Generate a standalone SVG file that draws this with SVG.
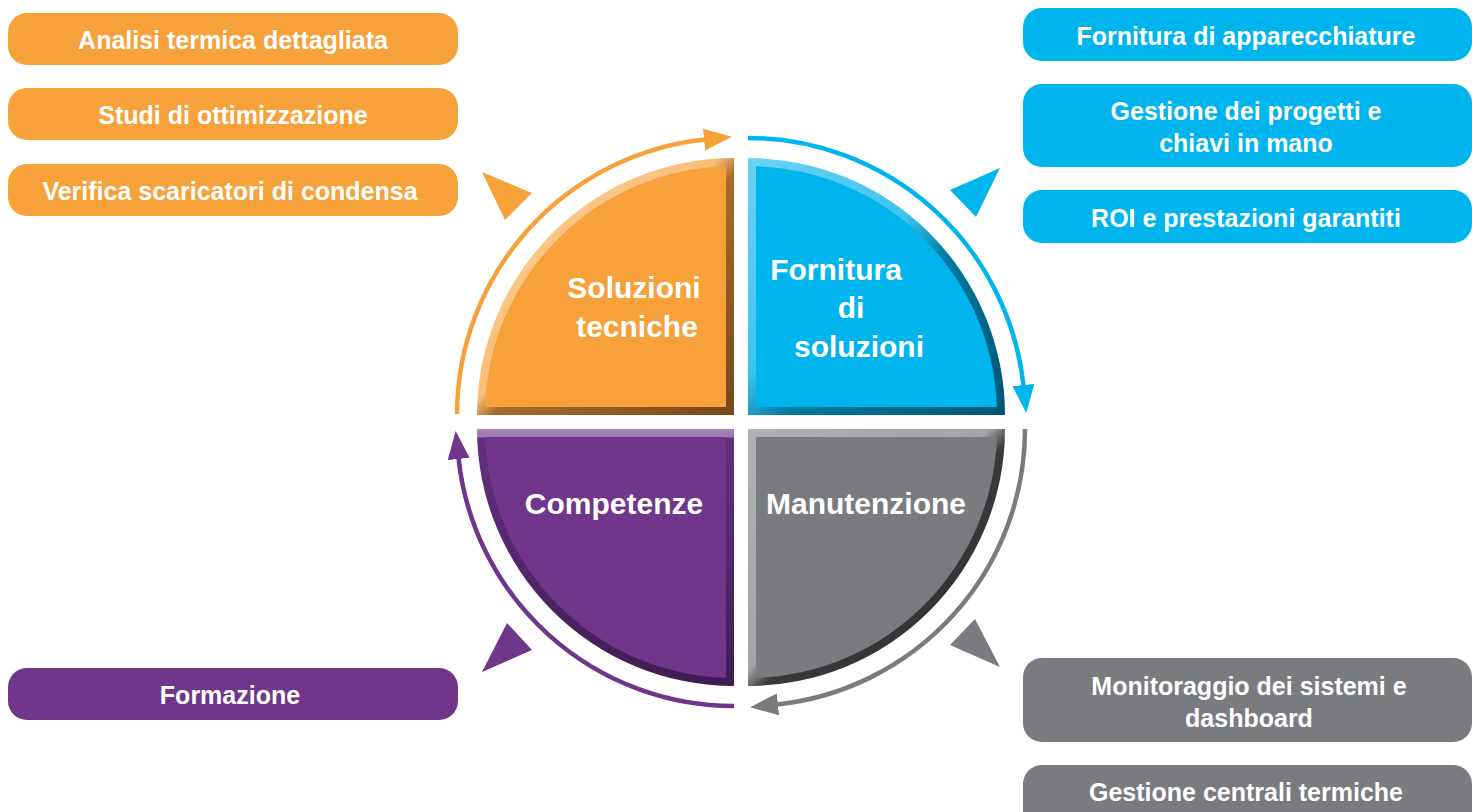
<svg xmlns="http://www.w3.org/2000/svg" width="1472" height="812" viewBox="0 0 1472 812">
<defs>
<style>
text{font-family:"Liberation Sans",Arial,sans-serif;font-weight:700;fill:#fff;text-anchor:middle}
.pill{font-size:25px}
.quad{font-size:30px}
.arc{fill:none;stroke-width:4.5}
.or{fill:#F6A13A}.bl{fill:#00B4EE}.pu{fill:#70368A}.gr{fill:#7A7B7F}
</style>
<linearGradient id="gOr" x1="0" y1="0" x2="1" y2="1">
<stop offset="0" stop-color="#FCD3A2"/><stop offset="0.47" stop-color="#F9BE78"/><stop offset="0.53" stop-color="#A86B2B"/><stop offset="1" stop-color="#774718"/>
</linearGradient>
<linearGradient id="gBl" x1="0" y1="0" x2="1" y2="1">
<stop offset="0" stop-color="#6DD2F4"/><stop offset="0.42" stop-color="#3CC4F0"/><stop offset="0.58" stop-color="#0078A0"/><stop offset="1" stop-color="#005573"/>
</linearGradient>
<linearGradient id="gPu" x1="0" y1="0" x2="0" y2="1">
<stop offset="0" stop-color="#A684BA"/><stop offset="0.03" stop-color="#9E7AB2"/><stop offset="0.036" stop-color="#63307C"/><stop offset="0.5" stop-color="#56286C"/><stop offset="1" stop-color="#3F1C52"/>
</linearGradient>
<linearGradient id="gGr" x1="0" y1="0" x2="1" y2="1">
<stop offset="0" stop-color="#B0B1B3"/><stop offset="0.47" stop-color="#A3A4A6"/><stop offset="0.53" stop-color="#3A3A3C"/><stop offset="1" stop-color="#2A2A2B"/>
</linearGradient>
<marker id="aOr" viewBox="0 0 28 22" markerUnits="userSpaceOnUse" markerWidth="28" markerHeight="22" refX="1" refY="11" orient="auto"><path d="M0,0 L28,11 L0,22 z" fill="#F6A13A"/></marker>
<marker id="aBl" viewBox="0 0 28 22" markerUnits="userSpaceOnUse" markerWidth="28" markerHeight="22" refX="1" refY="11" orient="auto"><path d="M0,0 L28,11 L0,22 z" fill="#00B4EE"/></marker>
<marker id="aGr" viewBox="0 0 28 22" markerUnits="userSpaceOnUse" markerWidth="28" markerHeight="22" refX="1" refY="11" orient="auto"><path d="M0,0 L28,11 L0,22 z" fill="#7A7B7F"/></marker>
<marker id="aPu" viewBox="0 0 28 22" markerUnits="userSpaceOnUse" markerWidth="28" markerHeight="22" refX="1" refY="11" orient="auto"><path d="M0,0 L28,11 L0,22 z" fill="#70368A"/></marker>
</defs>
<rect width="1472" height="812" fill="#fff"/>

<g id="connectors">
<path class="arc" stroke="#F6A13A" d="M457,414 A277,277 0 0 1 705.05,139.52" marker-end="url(#aOr)"/>
<path class="arc" stroke="#00B4EE" d="M748,138 A277,277 0 0 1 1023.48,386.05" marker-end="url(#aBl)"/>
<path class="arc" stroke="#7A7B7F" d="M1025,429 A277,277 0 0 1 776.95,704.48" marker-end="url(#aGr)"/>
<path class="arc" stroke="#70368A" d="M734,706 A277,277 0 0 1 458.52,457.95" marker-end="url(#aPu)"/>
<polygon class="or" points="482,172 532,193 505,220"/>
<polygon class="bl" points="1000,168 950,190 976,217"/>
<polygon class="pu" points="507,623 532,650 482,672"/>
<polygon class="gr" points="975,619 950,645 1000,667"/>
</g>

<g id="q-soluzioni-tecniche">
<path fill="url(#gOr)" d="M734,415 L734,158 A257,257 0 0 0 477,415 Z"/>
<path class="or" d="M726,407 L726,166.13 A249,249 0 0 0 485.13,407 Z"/>
<text class="quad" x="634" y="298">Soluzioni</text>
<text class="quad" x="637" y="337">tecniche</text>
</g>
<g id="q-fornitura-soluzioni">
<path fill="url(#gBl)" d="M748,415 L748,158 A257,257 0 0 1 1005,415 Z"/>
<path class="bl" d="M756,407 L756,166.13 A249,249 0 0 1 996.87,407 Z"/>
<text class="quad" x="836" y="280">Fornitura</text>
<text class="quad" x="851" y="318">di</text>
<text class="quad" x="859" y="357">soluzioni</text>
</g>
<g id="q-competenze">
<path fill="url(#gPu)" d="M734,429 L477,429 A257,257 0 0 0 734,686 Z"/>
<path class="pu" d="M726,437 L485.13,437 A249,249 0 0 0 726,677.87 Z"/>
<text class="quad" x="614" y="514">Competenze</text>
</g>
<g id="q-manutenzione">
<path fill="url(#gGr)" d="M748,429 L1005,429 A257,257 0 0 1 748,686 Z"/>
<path class="gr" d="M756,437 L996.87,437 A249,249 0 0 1 756,677.87 Z"/>
<text class="quad" x="866" y="514">Manutenzione</text>
</g>

<g id="b-analisi"><rect class="or" x="8" y="13" width="450" height="52" rx="19"/><text class="pill" x="233" y="49">Analisi termica dettagliata</text></g>
<g id="b-studi"><rect class="or" x="8" y="88" width="450" height="52" rx="19"/><text class="pill" x="233" y="124">Studi di ottimizzazione</text></g>
<g id="b-verifica"><rect class="or" x="8" y="164" width="450" height="52" rx="19"/><text class="pill" x="230" y="200">Verifica scaricatori di condensa</text></g>

<g id="b-fornitura"><rect class="bl" x="1023" y="8" width="449" height="53" rx="19"/><text class="pill" x="1246" y="45">Fornitura di apparecchiature</text></g>
<g id="b-gestione-progetti"><rect class="bl" x="1023" y="84" width="449" height="83" rx="19"/><text class="pill" x="1246" y="120">Gestione dei progetti e</text><text class="pill" x="1246" y="152">chiavi in mano</text></g>
<g id="b-roi"><rect class="bl" x="1023" y="190" width="449" height="53" rx="19"/><text class="pill" x="1246" y="227">ROI e prestazioni garantiti</text></g>

<g id="b-monitoraggio"><rect class="gr" x="1023" y="658" width="449" height="84" rx="19"/><text class="pill" x="1249" y="695">Monitoraggio dei sistemi e</text><text class="pill" x="1249" y="727">dashboard</text></g>
<g id="b-centrali"><rect class="gr" x="1023" y="765" width="449" height="70" rx="19"/><text class="pill" x="1246" y="801">Gestione centrali termiche</text></g>

<g id="b-formazione"><rect class="pu" x="8" y="668" width="450" height="52" rx="19"/><text class="pill" x="230" y="704">Formazione</text></g>
</svg>
